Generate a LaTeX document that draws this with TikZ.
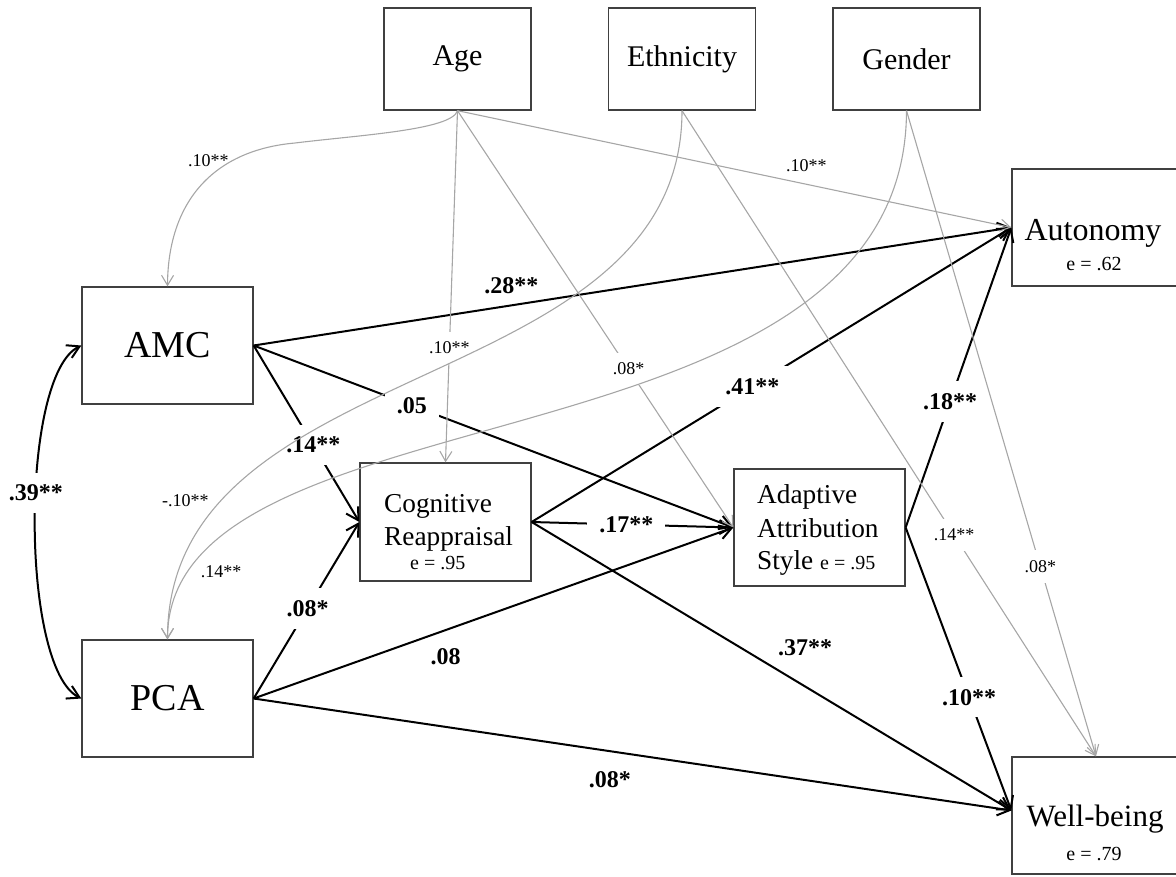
\documentclass[tikz,border=0pt]{standalone}
\usepackage{fontspec}
\setmainfont{Liberation Serif}
\usetikzlibrary{arrows.meta}

\begin{document}
\begin{tikzpicture}[x=1pt, y=-1pt,
    >={Straight Barb[length=12pt,width=14pt]},
    box/.style={draw=black!75, line width=1.3pt, rectangle, inner sep=0pt},
    blk/.style={->, line width=2pt, black},
    gry/.style={-{Straight Barb[length=10pt,width=12pt]}, line width=1.1pt, black!35},
    blab/.style={font=\fontsize{24}{24}\selectfont\bfseries, text=black, inner sep=2pt},
    glab/.style={font=\fontsize{18}{18}\selectfont, text=black, inner sep=2pt},
    gap/.style={fill=white, inner sep=12pt},
    ggap/.style={fill=white, inner sep=10pt},
    midtxt/.style={font=\fontsize{27.3}{27.3}\selectfont, inner sep=0pt, anchor=base west},
    etxt/.style={font=\fontsize{20}{20}\selectfont, inner sep=0pt, anchor=base}]
    \useasboundingbox (0,0) rectangle (1176,876);

    % Covariates on top
    \node[box, minimum width=147pt, minimum height=102pt, font=\fontsize{30}{30}\selectfont] (age) at (457.5,59) {Age};
    \node[box, minimum width=147pt, minimum height=102pt, font=\fontsize{30}{30}\selectfont] (eth) at (682,59) {Ethnicity};
    \node[box, minimum width=147pt, minimum height=102pt, font=\fontsize{30}{30}\selectfont] (gen) at (906.5,59) {Gender};

    % Predictors, mediators and outcomes
    \node[box, minimum width=171pt, minimum height=117pt, font=\fontsize{38}{38}\selectfont] (amc) at (167.5,345.5) {AMC};
    \node[box, minimum width=171pt, minimum height=117pt, font=\fontsize{38}{38}\selectfont] (pca) at (167.5,698.5) {PCA};
    \node[box, minimum width=171pt, minimum height=118pt] (cr) at (445.5,522) {};
    \node[box, minimum width=171pt, minimum height=117pt] (aas) at (819.5,527.5) {};
    \node[box, minimum width=168pt, minimum height=117pt] (aut) at (1096,227.5) {};
    \node[box, minimum width=168pt, minimum height=117pt] (wb) at (1096,815.5) {};

    % Texts inside the boxes
    \node[midtxt] (crA) at (384,512) {Cognitive};
    \node[midtxt] (crB) at (384,545) {Reappraisal};
    \node[etxt, anchor=base west] (crE) at (410,569) {e = .95};
    \node[midtxt] (aasA) at (757,503) {Adaptive};
    \node[midtxt] (aasB) at (757,537) {Attribution};
    \node[midtxt] (aasC) at (757,569) {Style \fontsize{20}{20}\selectfont e = .95};
    \node[font=\fontsize{32}{32}\selectfont, inner sep=0pt, anchor=base] (autT) at (1093,240) {Autonomy};
    \node[etxt] (autE) at (1094,270) {e = .62};
    \node[font=\fontsize{31}{31}\selectfont, inner sep=0pt, anchor=base] (wbT) at (1095,826) {Well-being};
    \node[etxt] (wbE) at (1094,860) {e = .79};

    % Paths with coefficients
    \draw[blk] (amc.east) -- (aut.west) node[blab, pos=0.34, above=9pt] {.28**};
    \draw[blk] (amc.east) -- (aas.west) node[blab, gap, pos=0.33] {.05};
    \draw[blk] (amc.east) -- (cr.west) node[blab, gap, pos=0.565] {.14**};
    \draw[blk] (pca.east) -- (cr.west) node[blab, gap, pos=0.51] {.08*};
    \draw[blk] (pca.east) -- (aas.west) node[blab, pos=0.4, below=15pt] {.08};
    \draw[blk] (pca.east) -- ([yshift=5pt]wb.west) node[blab, pos=0.47, below=17pt] {.08*};
    \draw[blk] (cr.east) -- (aas.west) node[blab, gap, pos=0.47] {.17**};
    \draw[blk] (cr.east) -- (aut.west) node[blab, gap, pos=0.46] {.41**};
    \draw[blk] (cr.east) -- ([yshift=5pt]wb.west) node[blab, pos=0.57, above=28pt] {.37**};
    \draw[blk] (aas.east) -- (aut.west) node[blab, gap, pos=0.42] {.18**};
    \draw[blk] (aas.east) -- ([yshift=5pt]wb.west) node[blab, gap, pos=0.6] {.10**};
    \draw[blk, <->] (amc.west) .. controls (20,375) and (20,668) .. (pca.west) node[blab, gap, pos=0.44] {.39**};

    % Control paths
    \draw[gry] (age.south) -- (cr.north) node[glab, ggap, pos=0.674] {.10**};
    \draw[gry] (age.south) -- (aas.west) node[glab, ggap, pos=0.62] {.08*};
    \draw[gry] (age.south) -- (aut.west) node[glab, pos=0.63, above=10pt] {.10**};
    \draw[gry] (eth.south) -- (wb.north) node[glab, ggap, pos=0.657] {.14**};
    \draw[gry] (gen.south) -- (wb.north) node[glab, ggap, pos=0.706] {.08*};
    \draw[gry] (age.south) .. controls (452,130) and (360,135) .. (295,143)
        .. controls (215,150) and (168,200) .. (amc.north) node[glab, pos=0.3, left=1pt] {.10**};
    \draw[gry] (eth.south) .. controls (682,400) and (168,350) .. (pca.north) node[glab, pos=0.8, left=10pt] {-.10**};
    \draw[gry] (gen.south) .. controls (906,480) and (168,380) .. (pca.north) node[glab, pos=0.9, right=10pt] {.14**};
\end{tikzpicture}
\end{document}
